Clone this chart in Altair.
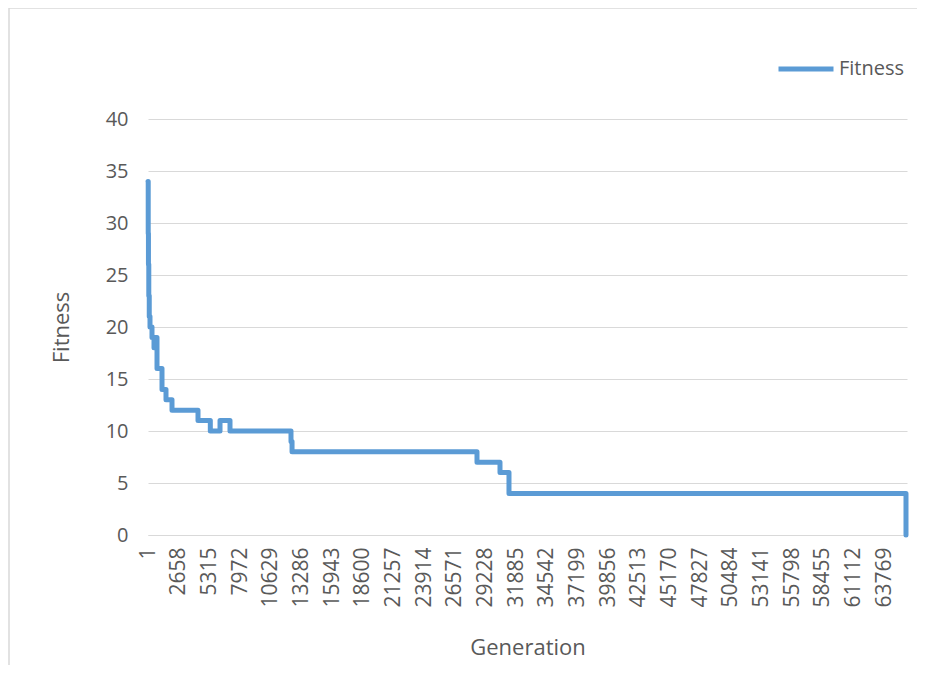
import altair as alt
import pandas as pd

# Data (generation index -> best fitness, step changes)
generations = [1, 20, 40, 70, 110, 174, 347, 521, 607, 781, 1214, 1560, 2080,
               4333, 5400, 6240, 7105, 12389, 12480, 28502, 30495, 31274, 65666, 65667]
fitness = [34, 29, 26, 23, 21, 20, 19, 18, 19, 16, 14, 13, 12,
           11, 10, 11, 10, 9, 8, 7, 6, 4, 4, 0]
x_ticks = [1 + 2657 * k for k in range(25)]
y_ticks = [0, 5, 10, 15, 20, 25, 30, 35, 40]

df = pd.DataFrame({"Generation": generations, "Fitness": fitness,
                   "series": ["Fitness"] * len(generations)})

FONT = "Open Sans"
TXT = "#595959"
GRID = "#D9D9D9"

line = alt.Chart(df).mark_line(
    interpolate="step-after", strokeWidth=5, strokeJoin="round", strokeCap="round"
).encode(
    x=alt.X("Generation:Q",
            scale=alt.Scale(domain=[1, 65754], nice=False, zero=False),
            axis=alt.Axis(values=x_ticks, format="d", labelAngle=-90, grid=False,
                          ticks=False, tickSize=0, labelPadding=12, labelOverlap=False,
                          labelFlush=False, labelFontSize=21, labelColor=TXT,
                          labelFont=FONT, domain=True, domainColor=GRID,
                          title="Generation", titleFontSize=22, titleFont=FONT,
                          titleColor=TXT, titleFontWeight="normal", titlePadding=30)),
    y=alt.Y("Fitness:Q",
            scale=alt.Scale(domain=[0, 40], nice=False),
            axis=alt.Axis(values=y_ticks, grid=True, gridColor=GRID, gridWidth=1,
                          ticks=False, tickSize=0, domain=False, labelPadding=20,
                          labelFontSize=20, labelColor=TXT, labelFont=FONT,
                          title="Fitness", titleFontSize=22, titleFont=FONT,
                          titleColor=TXT, titleFontWeight="normal", titleX=-75)),
    color=alt.Color("series:N", scale=alt.Scale(range=["#5B9BD5"]),
                    legend=alt.Legend(title=None, orient="none", legendX=628,
                                      legendY=-80, symbolType="stroke",
                                      symbolSize=3025, symbolStrokeWidth=5,
                                      labelOffset=3, labelFontSize=20,
                                      labelFont=FONT, labelColor=TXT, padding=0))
)

one = pd.DataFrame({"a": [0]})
border_left = alt.Chart(one).mark_rule(color=GRID, strokeWidth=1.5).encode(
    x=alt.value(-139), y=alt.value(-111), y2=alt.value(600))
border_top = alt.Chart(one).mark_rule(color=GRID, strokeWidth=1.5).encode(
    x=alt.value(-139), x2=alt.value(772), y=alt.value(-111))
border_right = alt.Chart(one).mark_rule(color=GRID, strokeWidth=1.5).encode(
    x=alt.value(772), y=alt.value(-111), y2=alt.value(600))

chart = alt.layer(border_left, border_top, border_right, line).properties(
    width=759, height=416,
    autosize=alt.AutoSizeParams(type="none"),
    padding={"left": 140, "top": 111, "right": 10, "bottom": 130},
    background="white",
).configure_view(stroke=None)

chart.save("out.html", embed_options={"renderer": "svg", "actions": False})
